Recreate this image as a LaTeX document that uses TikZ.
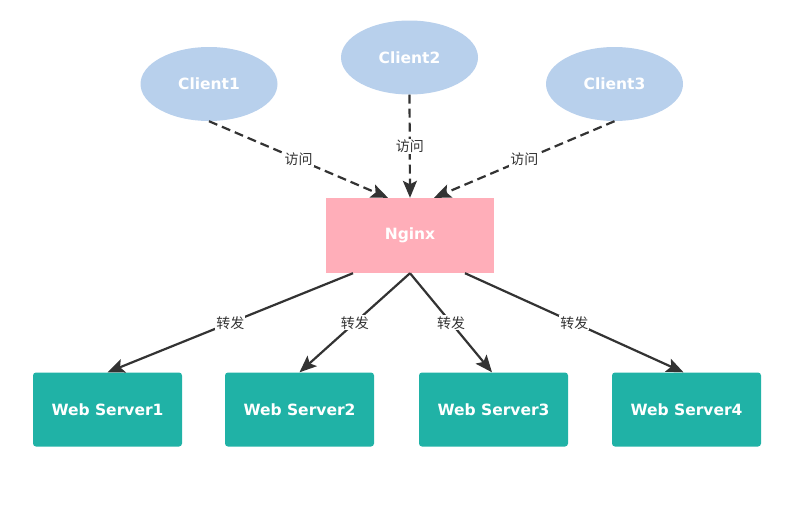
\documentclass[tikz,border=0pt]{standalone}
\usepackage{fontspec}
\setmainfont{DejaVu Sans}
\newfontfamily\cjk{Noto Sans CJK SC}
\usetikzlibrary{arrows.meta,shapes.geometric}
\definecolor{clientblue}{HTML}{B8D0EC}
\definecolor{nginxpink}{HTML}{FFAEB9}
\definecolor{serverteal}{HTML}{20B2A6}
\definecolor{linegray}{HTML}{333333}
\tikzset{
  client/.style={ellipse, fill=clientblue, minimum width=137pt, minimum height=74pt, inner sep=0pt, text=white, font=\bfseries\fontsize{15.5}{15.5}\selectfont},
  proxy/.style={rectangle, fill=nginxpink, minimum width=168pt, minimum height=75pt, inner sep=0pt, text=white, font=\bfseries\fontsize{15.5}{15.5}\selectfont},
  server/.style={rectangle, rounded corners=3pt, fill=serverteal, minimum width=149pt, minimum height=74pt, inner sep=0pt, text=white, font=\bfseries\fontsize{15.5}{15.5}\selectfont},
  conn/.style={draw=linegray, line width=2.2pt, -{Stealth[length=17pt,width=14pt,inset=3.5pt]}},
  visit/.style={conn, dash pattern=on 9pt off 5pt},
  lbl/.style={fill=white, inner sep=1pt, text=linegray, font=\cjk\fontsize{14}{14}\selectfont}
}
\begin{document}
\begin{tikzpicture}[x=1pt,y=-1pt]
\useasboundingbox (0,0) rectangle (802,509);
\node[client] (c1) at (209,84) {Client1};
\node[client] (c2) at (409.5,57.5) {Client2};
\node[client] (c3) at (614.5,84) {Client3};
\node[proxy] (ng) at (410,235.5) {Nginx};
\node[server] (w1) at (107.5,409.5) {Web Server1};
\node[server] (w2) at (299.5,409.5) {Web Server2};
\node[server] (w3) at (493.5,409.5) {Web Server3};
\node[server] (w4) at (686.5,409.5) {Web Server4};

\draw[visit] (c1.south) -- node[lbl]{访问} ([xshift=-22pt]ng.north);
\draw[visit] (c2.south) -- node[lbl]{访问} (ng.north);
\draw[visit] (c3.south) -- node[lbl]{访问} ([xshift=24pt]ng.north);

\draw[conn] ([xshift=-57pt]ng.south) -- node[lbl]{转发} (w1.north);
\draw[conn] (ng.south) -- node[lbl]{转发} (w2.north);
\draw[conn] (ng.south) -- node[lbl]{转发} ([xshift=-1.5pt]w3.north);
\draw[conn] ([xshift=55pt]ng.south) -- node[lbl]{转发} ([xshift=-3pt]w4.north);
\end{tikzpicture}
\end{document}
